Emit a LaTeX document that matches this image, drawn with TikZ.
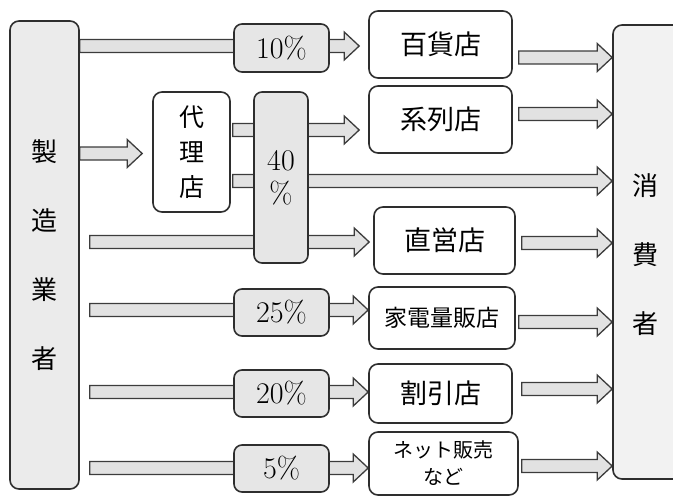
\documentclass[tikz,border=0pt]{standalone}
\usepackage{fontspec}
\newfontfamily\jp{Noto Sans CJK JP}
\usetikzlibrary{calc,backgrounds}
\definecolor{edge}{HTML}{2E2E2E}
\definecolor{arrowedge}{HTML}{3C3C3C}
\definecolor{barfill}{HTML}{E2E2E2}
\definecolor{mfrfill}{HTML}{EBEBEB}
\definecolor{consfill}{HTML}{F2F2F2}
\definecolor{pctfill}{HTML}{E6E6E6}
\newcommand\blockarr[2]{\path[barrowstyle] let \p1=(#1), \p2=(#2) in
  (\x1,\y1+6.5pt) -- (\x2-15pt,\y1+6.5pt) -- (\x2-15pt,\y1+14pt) -- (\x2,\y1)
  -- (\x2-15pt,\y1-14pt) -- (\x2-15pt,\y1-6.5pt) -- (\x1,\y1-6.5pt) -- cycle;}
\begin{document}
\begin{tikzpicture}[x=1pt,y=-1pt,
  sz/.style 2 args={minimum width=#1pt, minimum height=#2pt},
  box/.style={draw=edge, line width=1.6pt, rounded corners=9pt, inner sep=0pt, align=center},
  store/.style={box, fill=white, font={\jp\fontsize{27pt}{27pt}\selectfont}},
  pct/.style={box, fill=pctfill, rounded corners=8pt, font={\fontsize{30pt}{33pt}\selectfont}},
  vtext/.style={align=center, inner sep=0pt},
  barrowstyle/.style={draw=arrowedge, fill=barfill, line width=1.3pt, line join=miter}]
\useasboundingbox (0,0) rectangle (673,496);

% main boxes
\node[box, fill=mfrfill, sz={69}{468}, font={\jp\fontsize{26pt}{69pt}\selectfont}]
  (mfr) at (44.5,255) {製\\造\\業\\者};
\node[box, fill=consfill, sz={72}{454}] (shohi) at (649,252) {};
\node[vtext, font={\jp\fontsize{26pt}{69pt}\selectfont}] (shohilbl) at (645,255) {消\\費\\者};

\node[box, fill=white, sz={77}{120}, font={\jp\fontsize{25pt}{35pt}\selectfont}]
  (dairi) at (191.5,152) {代\\理\\店};
\node[pct, sz={54}{171}] (p40) at (281,177.5) {40\\\%};

\node[pct, sz={95}{48}] (p10) at (281.5,48) {10\%};
\node[pct, sz={95}{47}] (p25) at (281.5,312.5) {25\%};
\node[pct, sz={95}{47}] (p20) at (281.5,393.5) {20\%};
\node[pct, sz={95}{47}] (p5) at (281.5,468.5) {5\%};

\node[store, sz={143}{67}] (hyakka) at (440.5,44.5) {百貨店};
\node[store, sz={143}{67}] (keiretsu) at (440.5,119.5) {系列店};
\node[store, sz={141}{67}] (chokuei) at (444.5,240.5) {直営店};
\node[store, sz={146}{62}, font={\jp\fontsize{23pt}{23pt}\selectfont}] (kaden) at (442,318) {家電量販店};
\node[store, sz={143}{59}] (waribiki) at (440.5,393.5) {割引店};
\node[store, sz={149}{63}, font={\jp\fontsize{20pt}{27pt}\selectfont}] (net) at (443.5,463.5) {ネット販売\\など};

% row coordinates
\coordinate (r1) at (0,46);
\coordinate (r2) at (0,153.5);
\coordinate (r3) at (0,130);
\coordinate (r4) at (0,181);
\coordinate (r5) at (0,242);
\coordinate (r6) at (0,310);
\coordinate (r7) at (0,392);
\coordinate (r8) at (0,468);
\coordinate (s1) at (0,57.5);
\coordinate (s2) at (0,114);
\coordinate (s3) at (0,243);
\coordinate (s4) at (0,322);
\coordinate (s5) at (0,389);
\coordinate (s6) at (0,466);

\begin{scope}[on background layer]
\blockarr{mfr.east |- r1}{$(hyakka.west |- r1)+(-9,0)$}
\blockarr{mfr.east |- r2}{$(dairi.west |- r2)+(-10,0)$}
\blockarr{$(dairi.east |- r3)+(2,0)$}{$(keiretsu.west |- r3)+(-9,0)$}
\blockarr{$(dairi.east |- r4)+(2,0)$}{shohi.west |- r4}
\blockarr{$(mfr.east |- r5)+(10,0)$}{$(chokuei.west |- r5)+(-4,0)$}
\blockarr{$(mfr.east |- r6)+(10,0)$}{kaden.west |- r6}
\blockarr{$(mfr.east |- r7)+(10,0)$}{waribiki.west |- r7}
\blockarr{$(mfr.east |- r8)+(10,0)$}{net.west |- r8}
\blockarr{$(hyakka.east |- s1)+(6,0)$}{shohi.west |- s1}
\blockarr{$(keiretsu.east |- s2)+(6,0)$}{shohi.west |- s2}
\blockarr{$(chokuei.east |- s3)+(6,0)$}{shohi.west |- s3}
\blockarr{$(kaden.east |- s4)+(3,0)$}{shohi.west |- s4}
\blockarr{$(waribiki.east |- s5)+(9,0)$}{shohi.west |- s5}
\blockarr{$(net.east |- s6)+(3,0)$}{shohi.west |- s6}
\end{scope}
\end{tikzpicture}
\end{document}
